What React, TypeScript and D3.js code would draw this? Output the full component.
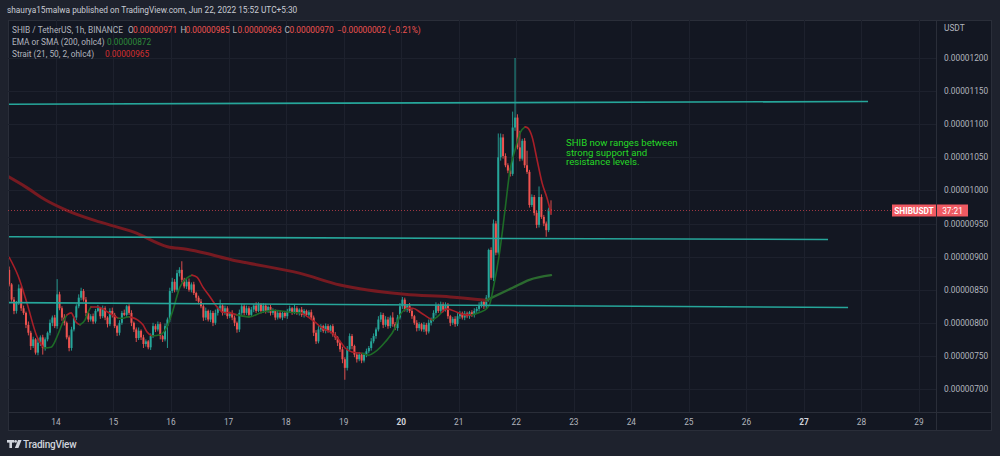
import { useEffect, useRef } from 'react';
import * as d3 from 'd3';

// ── Layout ───────────────────────────────────────────────
const W = 1000;
const H = 456;
const PLOT = { left: 8, right: 936, top: 20, bottom: 412 };
const PANEL = { right: 992, bottom: 431 };

const BG_OUTER = '#1e222d';
const BG_CHART = '#131722';
const GRID = '#1d212d';
const BORDER = '#2a2e39';
const TEXT = '#b2b5be';
const UP = '#26a69a';
const DOWN = '#ef5350';
const FONT = 'Roboto, "Noto Sans", sans-serif';

// ── Data (prices in units of 0.00000001 USDT) ───────────
const VIEW_START = '2022-06-13T04:00:00Z';
const VIEW_END = '2022-06-29T07:05:00Z';
const PRICE_MIN = 665.3;
const PRICE_MAX = 1257.4;

const CANDLE_START = '2022-06-13T04:30:00Z'; // hourly candles
const FIRST_OPEN = 880;
const CLOSE = [
  858, 835, 818, 830, 852, 822, 815, 797, 785, 765,
  775, 755, 770, 778, 762, 775, 785, 800, 808, 795,
  843, 822, 808, 800, 778, 762, 790, 808, 825, 838,
  848, 835, 815, 805, 810, 802, 818, 822, 810, 822,
  808, 798, 818, 812, 795, 785, 800, 815, 812, 825,
  815, 800, 790, 777, 788, 778, 768, 772, 763, 780,
  795, 790, 798, 780, 775, 795, 805, 848, 862, 850,
  875, 880, 865, 855, 862, 850, 858, 845, 838, 832,
  825, 808, 818, 805, 815, 800, 815, 822, 826, 815,
  822, 810, 815, 808, 800, 790, 815, 825, 815, 822,
  812, 820, 826, 818, 828, 818, 826, 818, 824, 815,
  818, 808, 815, 808, 815, 810, 818, 822, 816, 822,
  815, 820, 812, 818, 812, 816, 808, 785, 772, 790,
  795, 788, 795, 788, 795, 782, 778, 770, 760, 745,
  732, 760, 780, 765, 752, 745, 752, 743, 752, 757,
  762, 772, 780, 790, 805, 812, 797, 805, 795, 808,
  798, 792, 808, 825, 835, 820, 826, 818, 810, 800,
  792, 798, 790, 797, 787, 800, 805, 815, 826, 818,
  828, 820, 826, 810, 800, 806, 798, 810, 815, 808,
  814, 810, 816, 812, 818, 821, 826, 832, 825, 838,
  910, 868, 950, 906, 1050, 1080, 1052, 1038, 1030, 1025,
  1095, 1110, 1065, 1048, 1075, 1038, 1028, 978, 990, 966,
  948, 990, 960, 950, 940, 971, 970,
];
const WICK_HI = [
  5, 2, 4, 3, 6, 3, 4, 2, 5, 3,
  4, 2, 6, 3, 4, 3, 2, 5, 3, 4,
  23, 4, 3, 5, 2, 3, 4, 2, 3, 5,
  5, 3, 4, 2, 3, 4, 3, 5, 2, 4,
  3, 2, 4, 5, 3, 2, 4, 3, 5, 2,
  3, 4, 2, 3, 5, 2, 4, 3, 2, 4,
  5, 3, 4, 3, 2, 4, 3, 5, 6, 4,
  5, 4, 13, 3, 4, 5, 3, 4, 2, 3,
  4, 3, 5, 2, 4, 3, 5, 3, 9, 2,
  4, 3, 2, 4, 3, 2, 5, 4, 3, 4,
  3, 4, 2, 5, 3, 2, 4, 3, 2, 3,
  4, 2, 3, 4, 2, 3, 3, 4, 2, 5,
  3, 2, 4, 3, 2, 3, 4, 3, 4, 5,
  3, 2, 4, 3, 2, 3, 4, 2, 3, 4,
  3, 5, 4, 3, 2, 3, 4, 2, 3, 4,
  3, 5, 4, 3, 5, 4, 3, 5, 4, 3,
  8, 3, 4, 5, 4, 3, 2, 4, 3, 2,
  4, 3, 2, 4, 3, 5, 3, 4, 5, 3,
  4, 3, 5, 4, 2, 3, 4, 5, 3, 2,
  4, 3, 2, 3, 4, 3, 5, 4, 3, 4,
  2, 4, 6, 4, 36, 6, 5, 4, 3, 4,
  24, 90, 5, 25, 3, 4, 22, 3, 4, 3,
  3, 16, 4, 3, 3, 3, 14,
];
const WICK_LO = [
  3, 3, 5, 4, 3, 4, 3, 5, 4, 6,
  3, 3, 4, 5, 10, 4, 3, 4, 5, 3,
  4, 3, 5, 4, 3, 5, 4, 3, 4, 3,
  4, 3, 5, 4, 3, 4, 3, 2, 4, 3,
  4, 5, 3, 4, 3, 5, 4, 3, 2, 4,
  3, 5, 4, 6, 3, 4, 6, 4, 3, 4,
  3, 4, 3, 5, 4, 3, 33, 4, 3, 4,
  3, 5, 4, 3, 4, 3, 4, 3, 5, 4,
  3, 5, 4, 3, 4, 5, 3, 4, 3, 4,
  3, 4, 3, 4, 5, 5, 4, 3, 4, 3,
  4, 3, 4, 3, 2, 4, 3, 4, 3, 4,
  3, 4, 3, 2, 4, 3, 4, 3, 4, 3,
  3, 4, 3, 4, 3, 4, 4, 5, 4, 3,
  4, 3, 4, 3, 4, 3, 4, 5, 4, 6,
  18, 4, 3, 5, 4, 5, 3, 4, 3, 4,
  3, 4, 3, 4, 3, 4, 5, 3, 4, 3,
  4, 3, 4, 3, 4, 3, 4, 3, 4, 3,
  5, 4, 3, 4, 5, 3, 4, 3, 4, 3,
  3, 4, 3, 4, 5, 3, 4, 3, 4, 3,
  4, 3, 4, 3, 4, 3, 4, 3, 4, 3,
  6, 3, 5, 4, 3, 5, 4, 3, 4, 4,
  3, 5, 3, 4, 3, 4, 3, 4, 3, 4,
  5, 4, 3, 4, 10, 3, 7,
];

// [hours after CANDLE_START, value, colour of the segment ending here]
type Pt = [number, number, 'r' | 'g'];
const EMA_200: Pt[] = [
  [-1, 1022, 'r'], [7, 1005, 'r'], [15, 986, 'r'], [24, 970, 'r'], [38, 952, 'r'],
  [52, 937, 'r'], [66, 915, 'r'], [74, 911, 'r'], [82, 905, 'r'], [93, 895, 'r'],
  [100, 890, 'r'], [121, 875, 'r'], [138, 857, 'r'], [165, 843, 'r'], [184, 839, 'r'],
  [199, 834, 'r'], [210, 853, 'g'], [217, 865, 'g'], [226, 872, 'g'],
];
const STRAIT: Pt[] = [
  [0, 899, 'r'], [3.7, 871, 'r'], [7.4, 830, 'r'], [11.6, 779, 'r'], [14.5, 762, 'r'],
  [17.4, 763, 'g'], [20.3, 782, 'g'], [22.4, 801, 'g'], [24.1, 812, 'g'],
  [25.8, 815, 'r'], [27.9, 801, 'r'], [29.5, 797, 'r'],
  [31.6, 804, 'g'], [32.9, 816, 'g'], [34.1, 824, 'g'],
  [37.0, 824, 'r'], [41.2, 816, 'r'], [45.4, 807, 'r'],
  [47.5, 807, 'g'], [49.5, 809, 'g'], [50.4, 809, 'g'],
  [53.7, 804, 'r'], [55.8, 797, 'r'], [57.5, 786, 'r'], [59.6, 780, 'r'],
  [62.9, 782, 'g'], [65.8, 794, 'g'], [68.3, 819, 'g'], [71.2, 854, 'g'], [74.2, 868, 'g'], [76.2, 872, 'g'],
  [78.3, 869, 'r'], [80.8, 854, 'r'], [83.8, 839, 'r'], [86.7, 824, 'r'], [89.2, 816, 'r'], [92.1, 815, 'r'], [95.0, 812, 'r'],
  [100.4, 809, 'g'], [104.6, 815, 'g'], [110, 819, 'g'], [117, 816, 'g'], [122, 815, 'g'],
  [127.6, 801, 'r'], [130.5, 792, 'r'], [134.6, 785, 'r'], [137.6, 774, 'r'], [140.1, 762, 'r'], [143, 756, 'r'], [147.2, 754, 'r'],
  [150, 751, 'g'], [152.6, 756, 'g'], [156.8, 771, 'g'], [160.9, 792, 'g'], [163, 812, 'g'], [166, 822, 'g'],
  [168.4, 822, 'r'], [171.4, 816, 'r'], [174.3, 809, 'r'], [176.4, 804, 'r'],
  [178.5, 809, 'g'], [180.5, 816, 'g'],
  [182.6, 821, 'r'], [186.8, 816, 'r'], [190.1, 812, 'r'], [193.1, 812, 'r'],
  [196.4, 816, 'g'], [199.3, 822, 'g'], [200.6, 830, 'g'], [201.8, 850, 'g'], [204.7, 910, 'g'],
  [206.8, 970, 'g'], [208.9, 1031, 'g'], [211, 1061, 'g'], [213.1, 1087, 'g'], [215.2, 1096, 'g'],
  [216.4, 1094, 'r'], [218.1, 1081, 'r'], [220.2, 1046, 'r'], [222.3, 1011, 'r'], [224.3, 989, 'r'], [226, 966, 'r'],
];

// drawn horizontal levels: [start, price, end, price]
const LEVELS: [string, number, string, number][] = [
  ['2022-06-13T00:00:00Z', 1130.2, '2022-06-28T02:44:00Z', 1134.3],
  ['2022-06-13T00:00:00Z', 930.0, '2022-06-27T10:03:00Z', 925.8],
  ['2022-06-13T00:00:00Z', 830.6, '2022-06-27T18:24:00Z', 823.1],
];

const LAST_PRICE = 970;
const PRICE_TICKS = [700, 750, 800, 850, 900, 950, 1000, 1050, 1100, 1150, 1200];
const BOLD_DAYS = [20, 27];

const HEADER = 'shaurya15malwa published on TradingView.com, Jun 22, 2022 15:52 UTC+5:30';
const SYMBOL = 'SHIB / TetherUS, 1h, BINANCE';
const OHLC: [string, string][] = [['O', '0.00000971'], ['H', '0.00000985'], ['L', '0.00000963'], ['C', '0.00000970']];
const CHANGE = '\u22120.00000002 (\u22120.21%)';
const EMA_LABEL = ['EMA or SMA (200, ohlc4)', '0.00000872'];
const STRAIT_LABEL = ['Strait (21, 50, 2, ohlc4)', '0.00000965'];
const NOTE = ['SHIB now ranges between', 'strong support and', 'resistance levels.'];

function colourRuns(pts: Pt[]) {
  const out: { c: 'r' | 'g'; pts: Pt[] }[] = [];
  for (let k = 1; k < pts.length; k++) {
    const c = pts[k][2];
    if (!out.length || out[out.length - 1].c !== c) out.push({ c, pts: [pts[k - 1]] });
    out[out.length - 1].pts.push(pts[k]);
  }
  return out;
}

export default function App() {
  const svgRef = useRef<SVGSVGElement>(null);

  useEffect(() => {
    if (!svgRef.current) return;
    document.body.style.margin = '0';
    const svg = d3.select(svgRef.current);
    svg.selectAll('*').remove();

    const x = d3.scaleUtc().domain([new Date(VIEW_START), new Date(VIEW_END)]).range([PLOT.left, PLOT.right]);
    const y = d3.scaleLinear().domain([PRICE_MIN, PRICE_MAX]).range([PLOT.bottom, PLOT.top]);
    const t0 = +new Date(CANDLE_START);
    const hx = (h: number) => x(new Date(t0 + h * 3600e3));

    // ── Background & panel ───────────────────────────────
    svg.append('rect').attr('width', W).attr('height', H).attr('fill', BG_OUTER);
    svg.append('rect')
      .attr('x', PLOT.left + 0.5).attr('y', PLOT.top + 0.5)
      .attr('width', PANEL.right - PLOT.left - 1).attr('height', PANEL.bottom - PLOT.top - 1)
      .attr('fill', BG_CHART).attr('stroke', BORDER);

    const clip = svg.append('defs').append('clipPath').attr('id', 'plot-clip');
    clip.append('rect').attr('x', PLOT.left + 1).attr('y', PLOT.top + 1)
      .attr('width', PLOT.right - PLOT.left - 1).attr('height', PLOT.bottom - PLOT.top - 1);

    // ── Grid ─────────────────────────────────────────────
    const days = d3.utcDay.range(new Date('2022-06-14T00:00:00Z'), new Date('2022-06-30T00:00:00Z'));
    const gridG = svg.append('g');
    PRICE_TICKS.forEach(p => {
      gridG.append('line').attr('x1', PLOT.left).attr('x2', PLOT.right)
        .attr('y1', Math.round(y(p)) + 0.5).attr('y2', Math.round(y(p)) + 0.5)
        .attr('stroke', GRID);
    });
    days.forEach(d => {
      gridG.append('line').attr('x1', Math.round(x(d)) + 0.5).attr('x2', Math.round(x(d)) + 0.5)
        .attr('y1', PLOT.top).attr('y2', PLOT.bottom)
        .attr('stroke', GRID);
    });

    // ── Axes ─────────────────────────────────────────────
    svg.append('line').attr('x1', PLOT.right + 0.5).attr('x2', PLOT.right + 0.5)
      .attr('y1', PLOT.top).attr('y2', PANEL.bottom).attr('stroke', BORDER);
    svg.append('line').attr('x1', PLOT.left).attr('x2', PANEL.right)
      .attr('y1', PLOT.bottom + 0.5).attr('y2', PLOT.bottom + 0.5).attr('stroke', BORDER);

    const axisG = svg.append('g').attr('font-family', FONT).attr('font-size', 8.3).attr('fill', TEXT);
    PRICE_TICKS.forEach(p => {
      axisG.append('text').attr('x', 944).attr('y', y(p) + 3)
        .text((p * 1e-8).toFixed(8));
    });
    axisG.append('text').attr('x', 944).attr('y', 31).text('USDT');
    days.forEach(d => {
      const bold = BOLD_DAYS.includes(d.getUTCDate());
      axisG.append('text').attr('x', x(d)).attr('y', 425).attr('text-anchor', 'middle')
        .attr('font-weight', bold ? 700 : 400).attr('fill', bold ? '#d1d4dc' : TEXT)
        .text(d.getUTCDate());
    });

    // ── Candles ──────────────────────────────────────────
    const plotG = svg.append('g').attr('clip-path', 'url(#plot-clip)');
    const candleG = plotG.append('g');
    CLOSE.forEach((c, i) => {
      const o = i === 0 ? FIRST_OPEN : CLOSE[i - 1];
      const hi = Math.max(o, c) + WICK_HI[i];
      const lo = Math.min(o, c) - WICK_LO[i];
      const cx = hx(i);
      const col = c >= o ? UP : DOWN;
      candleG.append('line').attr('x1', cx).attr('x2', cx)
        .attr('y1', y(hi)).attr('y2', y(lo)).attr('stroke', col).attr('stroke-width', 0.9);
      const top = y(Math.max(o, c));
      candleG.append('rect').attr('x', cx - 1).attr('width', 2)
        .attr('y', top).attr('height', Math.max(0.8, y(Math.min(o, c)) - top)).attr('fill', col);
    });

    // ── Indicators ───────────────────────────────────────
    const line = d3.line<Pt>().x(d => hx(d[0])).y(d => y(d[1])).curve(d3.curveMonotoneX);
    const emaCol = { r: '#761a21', g: '#2b6a2f' };
    colourRuns(EMA_200).forEach(run => {
      plotG.append('path').attr('d', line(run.pts)).attr('fill', 'none')
        .attr('stroke', emaCol[run.c]).attr('stroke-width', run.c === 'r' ? 3 : 2.4)
        .attr('stroke-linecap', 'round');
    });
    const straitCol = { r: '#a81f28', g: '#1d6b27' };
    colourRuns(STRAIT).forEach(run => {
      plotG.append('path').attr('d', line(run.pts)).attr('fill', 'none')
        .attr('stroke', straitCol[run.c]).attr('stroke-width', 1.6)
        .attr('stroke-linecap', 'round');
    });

    // ── Levels ───────────────────────────────────────────
    LEVELS.forEach(([ta, pa, tb, pb]) => {
      plotG.append('line')
        .attr('x1', x(new Date(ta))).attr('y1', y(pa))
        .attr('x2', x(new Date(tb))).attr('y2', y(pb))
        .attr('stroke', '#26a69a').attr('stroke-width', 1.6);
    });

    // ── Last price ───────────────────────────────────────
    const py = Math.round(y(LAST_PRICE)) + 0.5;
    svg.append('line').attr('x1', PLOT.left).attr('x2', 892).attr('y1', py).attr('y2', py)
      .attr('stroke', '#c2404a').attr('stroke-dasharray', '1,2').attr('opacity', 0.8);
    const tagG = svg.append('g').attr('font-family', FONT).attr('font-size', 8.3).attr('fill', '#fff');
    tagG.append('rect').attr('x', 892).attr('y', py - 6).attr('width', 44).attr('height', 12).attr('fill', '#f05a62');
    tagG.append('rect').attr('x', 937).attr('y', py - 6).attr('width', 31).attr('height', 12).attr('fill', '#f05a62');
    tagG.append('text').attr('x', 914).attr('y', py + 3).attr('text-anchor', 'middle').attr('font-weight', 700).text('SHIBUSDT');
    tagG.append('text').attr('x', 952.5).attr('y', py + 3).attr('text-anchor', 'middle').text('37:21');

    // ── Note ─────────────────────────────────────────────
    const noteG = svg.append('g').attr('font-family', FONT).attr('font-size', 9.6).attr('fill', '#26d926');
    NOTE.forEach((s, k) => noteG.append('text').attr('x', 566).attr('y', 146 + k * 9.6).text(s));

    // ── Header & legend ──────────────────────────────────
    const hdG = svg.append('g').attr('font-family', FONT).attr('font-size', 8.3);
    hdG.append('text').attr('x', 7).attr('y', 13).attr('fill', '#c9ccd4').text(HEADER);
    const l1 = hdG.append('text').attr('y', 33).attr('fill', TEXT);
    l1.append('tspan').attr('x', 12).text(SYMBOL);
    const ohlcX = [128, 180.5, 232.5, 284.5];
    OHLC.forEach(([k, v], j) => {
      l1.append('tspan').attr('x', ohlcX[j]).text(k);
      l1.append('tspan').attr('x', ohlcX[j] + 5).attr('fill', DOWN).text(v);
    });
    l1.append('tspan').attr('x', 337).attr('fill', DOWN).text(CHANGE);
    const l2 = hdG.append('text').attr('y', 45).attr('fill', TEXT);
    l2.append('tspan').attr('x', 12).text(EMA_LABEL[0]);
    l2.append('tspan').attr('x', 107).attr('fill', '#2e8b3a').text(EMA_LABEL[1]);
    const l3 = hdG.append('text').attr('y', 56.5).attr('fill', TEXT);
    l3.append('tspan').attr('x', 12).text(STRAIT_LABEL[0]);
    l3.append('tspan').attr('x', 105).attr('fill', '#d32f2f').text(STRAIT_LABEL[1]);

    // ── TradingView mark ─────────────────────────────────
    const tv = svg.append('g').attr('fill', '#d1d4dc');
    tv.append('rect').attr('x', 7).attr('y', 440).attr('width', 7).attr('height', 2.6);
    tv.append('rect').attr('x', 9.4).attr('y', 440).attr('width', 2.6).attr('height', 8);
    tv.append('circle').attr('cx', 15.6).attr('cy', 441.4).attr('r', 1.4);
    tv.append('path').attr('d', 'M18 440 L21.6 440 L18.4 448 L14.9 448 Z');
    tv.append('text').attr('x', 23).attr('y', 447.7).attr('font-family', FONT).attr('font-size', 10)
      .attr('font-weight', 500).attr('letter-spacing', -0.2).text('TradingView');
  }, []);

  return <svg ref={svgRef} width={W} height={H} style={{ display: 'block' }} />;
}
